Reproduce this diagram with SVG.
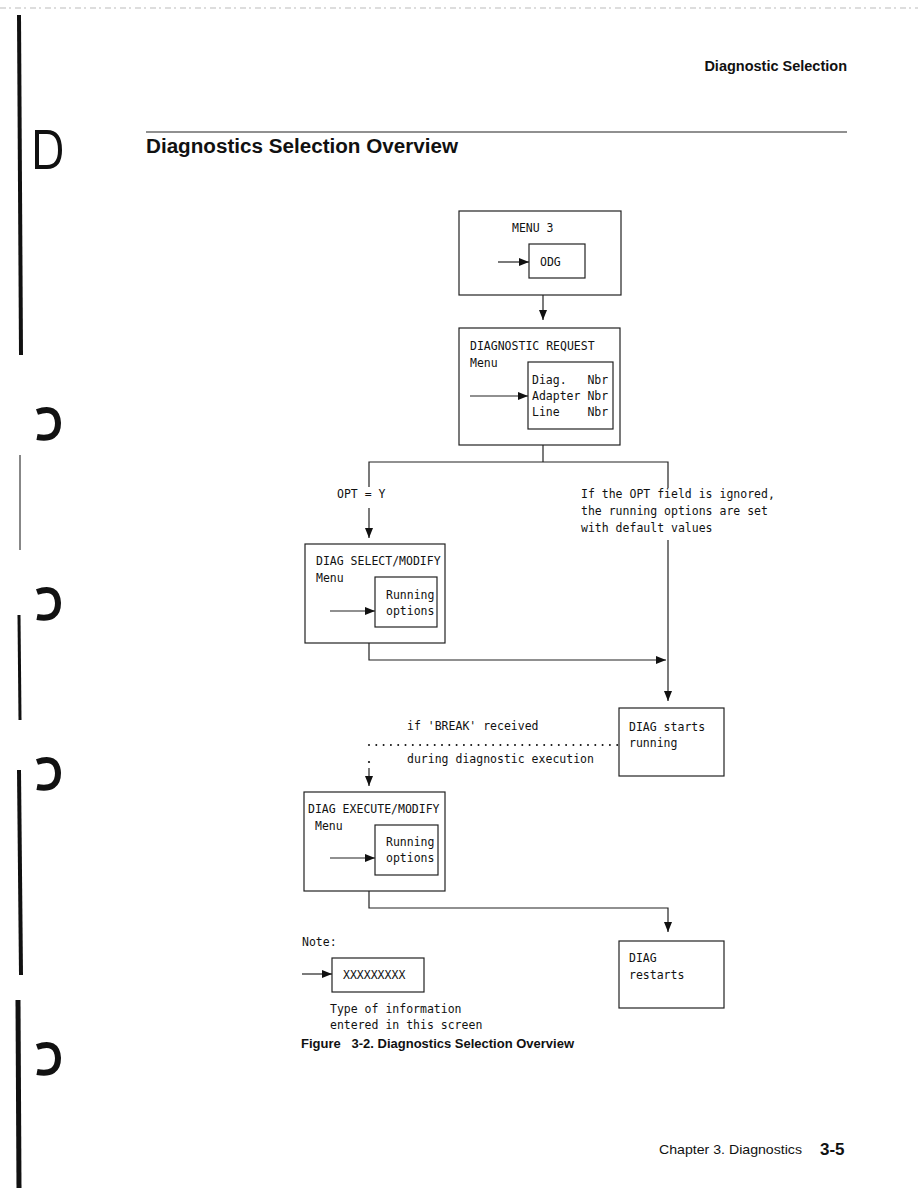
<svg xmlns="http://www.w3.org/2000/svg" width="918" height="1188" viewBox="0 0 918 1188">
<style>
.m{font-family:"DejaVu Sans Mono","Liberation Mono",monospace;font-size:11.5px;fill:#111}
.box{fill:none;stroke:#222;stroke-width:1.2}
.ln{fill:none;stroke:#222;stroke-width:1.2}
.h{font-family:"Liberation Sans",Arial,sans-serif;fill:#111}
.scan{fill:none;stroke:#111}
</style>
<defs>
<marker id="ah" markerUnits="userSpaceOnUse" markerWidth="10" markerHeight="8" refX="10" refY="4" orient="auto">
<path d="M0,0 L10,4 L0,8 Z" fill="#111"/>
</marker>
</defs>
<rect width="918" height="1188" fill="#fff"/>

<g id="scan-artifacts">
<line x1="0" y1="8" x2="918" y2="8" stroke="#bbb" stroke-width="1" stroke-dasharray="6 3 2 4"/>
<path d="M19,15 L21,355" class="scan" stroke-width="4"/>
<path d="M20,455 L20,550" class="scan" stroke-width="1" stroke="#888"/>
<path d="M19,615 L20,720" class="scan" stroke-width="3"/>
<path d="M19,770 L21,975" class="scan" stroke-width="4"/>
<path d="M18,1000 L19,1188" class="scan" stroke-width="5"/>
<path d="M37,132 L47,132 Q60,132 60,150 Q60,167 47,167 L37,167 Z" class="scan" stroke-width="4"/>
<path d="M37,412 Q57,405 58,423 Q58,441 37,437" class="scan" stroke-width="6"/>
<path d="M37,592 Q57,585 58,603 Q58,621 37,617" class="scan" stroke-width="6"/>
<path d="M37,762 Q57,755 58,773 Q58,791 37,787" class="scan" stroke-width="6"/>
<path d="M37,1047 Q57,1040 58,1058 Q58,1076 37,1072" class="scan" stroke-width="6"/>
</g>

<g id="page-header">
<text class="h" x="847" y="71" font-size="14.5" font-weight="bold" text-anchor="end">Diagnostic Selection</text>
<line x1="146" y1="132" x2="847" y2="132" stroke="#222" stroke-width="1.2"/>
<text class="h" x="146" y="153" font-size="20" font-weight="bold" textLength="312" lengthAdjust="spacingAndGlyphs">Diagnostics Selection Overview</text>
</g>

<g id="connectors">
<line class="ln" x1="498" y1="262" x2="529" y2="262" marker-end="url(#ah)"/>
<line class="ln" x1="543" y1="295" x2="543" y2="320" marker-end="url(#ah)"/>
<line class="ln" x1="470" y1="396" x2="528" y2="396" marker-end="url(#ah)"/>
<polyline class="ln" points="543,445 543,462"/>
<polyline class="ln" points="369,487 369,462 668,462 668,488"/>
<line class="ln" x1="369" y1="508" x2="369" y2="538" marker-end="url(#ah)"/>
<line class="ln" x1="668" y1="540" x2="668" y2="701" marker-end="url(#ah)"/>
<line class="ln" x1="330" y1="611" x2="375" y2="611" marker-end="url(#ah)"/>
<polyline class="ln" points="369,643 369,660 666,660" marker-end="url(#ah)"/>
<line x1="369" y1="745" x2="622" y2="745" stroke="#111" stroke-width="2" stroke-linecap="round" stroke-dasharray="0 7.3"/>
<circle cx="369" cy="762" r="1.1" fill="#111"/>
<line class="ln" x1="369" y1="768" x2="369" y2="786" marker-end="url(#ah)"/>
<line class="ln" x1="330" y1="858" x2="375" y2="858" marker-end="url(#ah)"/>
<polyline class="ln" points="369,891 369,908 668,908 668,932" marker-end="url(#ah)"/>
<line class="ln" x1="302" y1="974" x2="332" y2="974" marker-end="url(#ah)"/>
</g>

<g id="menu3">
<rect class="box" x="459" y="211" width="162" height="84"/>
<text class="m" x="512" y="232">MENU 3</text>
<rect class="box" x="529" y="244" width="56" height="34"/>
<text class="m" x="540" y="266">ODG</text>
</g>

<g id="diag-request">
<rect class="box" x="459" y="328" width="161" height="117"/>
<text class="m" x="470" y="350">DIAGNOSTIC REQUEST</text>
<text class="m" x="470" y="367">Menu</text>
<rect class="box" x="528" y="362" width="85" height="67"/>
<text class="m" x="532" y="384" xml:space="preserve">Diag.   Nbr</text>
<text class="m" x="532" y="400" xml:space="preserve">Adapter Nbr</text>
<text class="m" x="532" y="416" xml:space="preserve">Line    Nbr</text>
</g>

<g id="opt-label">
<text class="m" x="337" y="498">OPT = Y</text>
</g>

<g id="ignored-note">
<text class="m" x="581" y="498">If the OPT field is ignored,</text>
<text class="m" x="581" y="515">the running options are set</text>
<text class="m" x="581" y="532">with default values</text>
</g>

<g id="diag-select">
<rect class="box" x="305" y="544" width="140" height="99"/>
<text class="m" x="316" y="565">DIAG SELECT/MODIFY</text>
<text class="m" x="316" y="582">Menu</text>
<rect class="box" x="375" y="577" width="62" height="50"/>
<text class="m" x="386" y="599">Running</text>
<text class="m" x="386" y="615">options</text>
</g>

<g id="break-label">
<text class="m" x="407" y="730">if 'BREAK' received</text>
<text class="m" x="407" y="763">during diagnostic execution</text>
</g>

<g id="diag-starts">
<rect class="box" x="619" y="708" width="105" height="68"/>
<text class="m" x="629" y="731">DIAG starts</text>
<text class="m" x="629" y="747">running</text>
</g>

<g id="diag-execute">
<rect class="box" x="304" y="792" width="141" height="99"/>
<text class="m" x="308" y="813">DIAG EXECUTE/MODIFY</text>
<text class="m" x="315" y="830">Menu</text>
<rect class="box" x="375" y="825" width="63" height="50"/>
<text class="m" x="386" y="846">Running</text>
<text class="m" x="386" y="862">options</text>
</g>

<g id="diag-restarts">
<rect class="box" x="619" y="941" width="105" height="67"/>
<text class="m" x="629" y="962">DIAG</text>
<text class="m" x="629" y="979">restarts</text>
</g>

<g id="legend">
<text class="m" x="302" y="946">Note:</text>
<rect class="box" x="332" y="958" width="92" height="34"/>
<text class="m" x="343" y="979">XXXXXXXXX</text>
<text class="m" x="330" y="1013">Type of information</text>
<text class="m" x="330" y="1029">entered in this screen</text>
</g>

<g id="caption">
<text class="h" x="301" y="1048" font-size="13" font-weight="bold" textLength="273" lengthAdjust="spacingAndGlyphs" xml:space="preserve">Figure   3-2. Diagnostics Selection Overview</text>
</g>

<g id="footer">
<text class="h" x="659" y="1154" font-size="13" textLength="143" lengthAdjust="spacingAndGlyphs">Chapter 3.  Diagnostics</text>
<text class="h" x="820" y="1155" font-size="17" font-weight="bold">3-5</text>
</g>
</svg>
